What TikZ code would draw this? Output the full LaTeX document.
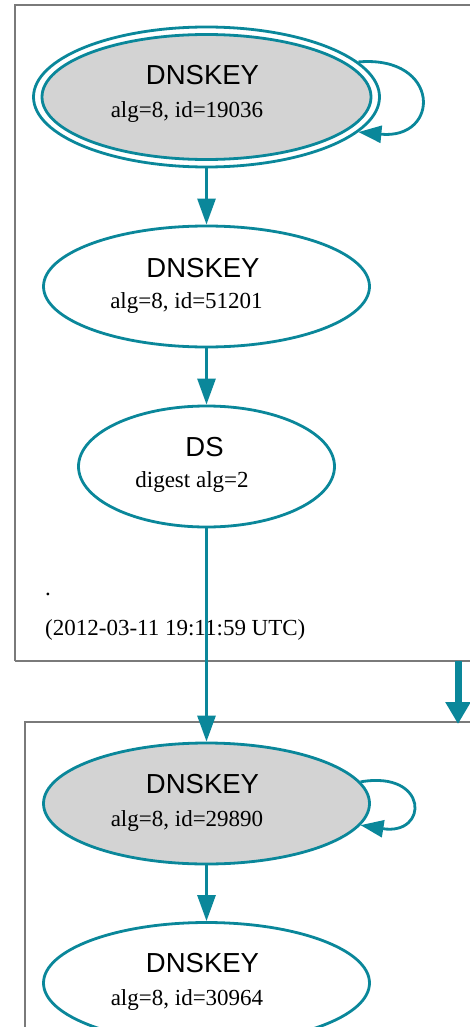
\documentclass[tikz,border=0pt]{standalone}
\usepackage{fontspec}
\setmainfont{Liberation Serif}
\newfontfamily\hsans{Liberation Sans}
\usetikzlibrary{arrows.meta,shapes.geometric}
\definecolor{teal1}{HTML}{0A879A}
\definecolor{boxgray}{HTML}{7A7A7A}
\definecolor{fillgray}{HTML}{D3D3D3}
\begin{document}
\begin{tikzpicture}[x=1pt,y=-1pt,
  keynode/.style={ellipse, draw=teal1, line width=2.8pt, inner sep=0pt, fill=white,
                  minimum width=326pt, minimum height=121pt},
  edge/.style={draw=teal1, line width=2.8pt, -{Triangle[length=26pt,width=18pt]}},
  loopedge/.style={draw=teal1, line width=2.8pt, -{Triangle[length=23pt,width=17pt]}},
  title/.style={font=\hsans\fontsize{27.5}{30}\selectfont, inner sep=0pt, anchor=base},
  detail/.style={font=\fontsize{23}{26}\selectfont, inner sep=0pt, anchor=base},
  cluster/.style={draw=boxgray, line width=1.5pt}]
\useasboundingbox (0,0) rectangle (470,1027);
\clip (0,0) rectangle (470,1027);
% clusters
\draw[cluster] (15,661) -- (15,5) -- (490,5);
\draw[cluster] (15,661) -- (490,661);
\draw[cluster] (25,1040) -- (25,722) -- (490,722);
% nodes
\node[keynode, minimum width=346pt, minimum height=140pt] (n1) at (206.5,97) {};
\node[keynode, fill=fillgray, minimum width=329pt, minimum height=125pt] (n1i) at (206.5,97) {};
\node[keynode] (n2) at (206.5,286.5) {};
\node[keynode, minimum width=256pt] (n3) at (206.5,466.5) {};
\node[keynode, fill=fillgray] (n4) at (206.5,803.5) {};
\node[keynode] (n5) at (206.5,983) {};
% labels
\node[title] (t1) at (202.5,85) {DNSKEY};
\node[detail] (d1) at (187,118) {alg=8, id=19036};
\node[title] (t2) at (203,277) {DNSKEY};
\node[detail] (d2) at (186.5,308) {alg=8, id=51201};
\node[title] (t3) at (204.5,456) {DS};
\node[detail] (d3) at (192,487) {digest alg=2};
\node[title] (t4) at (202.5,793) {DNSKEY};
\node[detail] (d4) at (187,826) {alg=8, id=29890};
\node[title] (t5) at (202.5,972) {DNSKEY};
\node[detail] (d5) at (187,1005) {alg=8, id=30964};
\node[detail, anchor=base west] (dot) at (45,595) {.};
\node[detail, anchor=base west] (ts) at (45,635) {(2012-03-11 19:11:59 UTC)};
% edges
\draw[edge] (n1) -- (n2);
\draw[edge] (n2) -- (n3);
\draw[edge] (n3) -- (n4);
\draw[edge] (n4) -- (n5);
\draw[loopedge] (n1.13) .. controls (441,55) and (441,140) .. (n1.-13);
\draw[loopedge] (n4.8) .. controls (429,770) and (429,836) .. (n4.-8);
% cluster link
\coordinate (c1) at (458,661);
\coordinate (c2) at (458,724);
\draw[teal1, line width=7pt, -{Triangle[length=22pt,width=24pt]}] (c1) -- (c2);
\end{tikzpicture}
\end{document}
